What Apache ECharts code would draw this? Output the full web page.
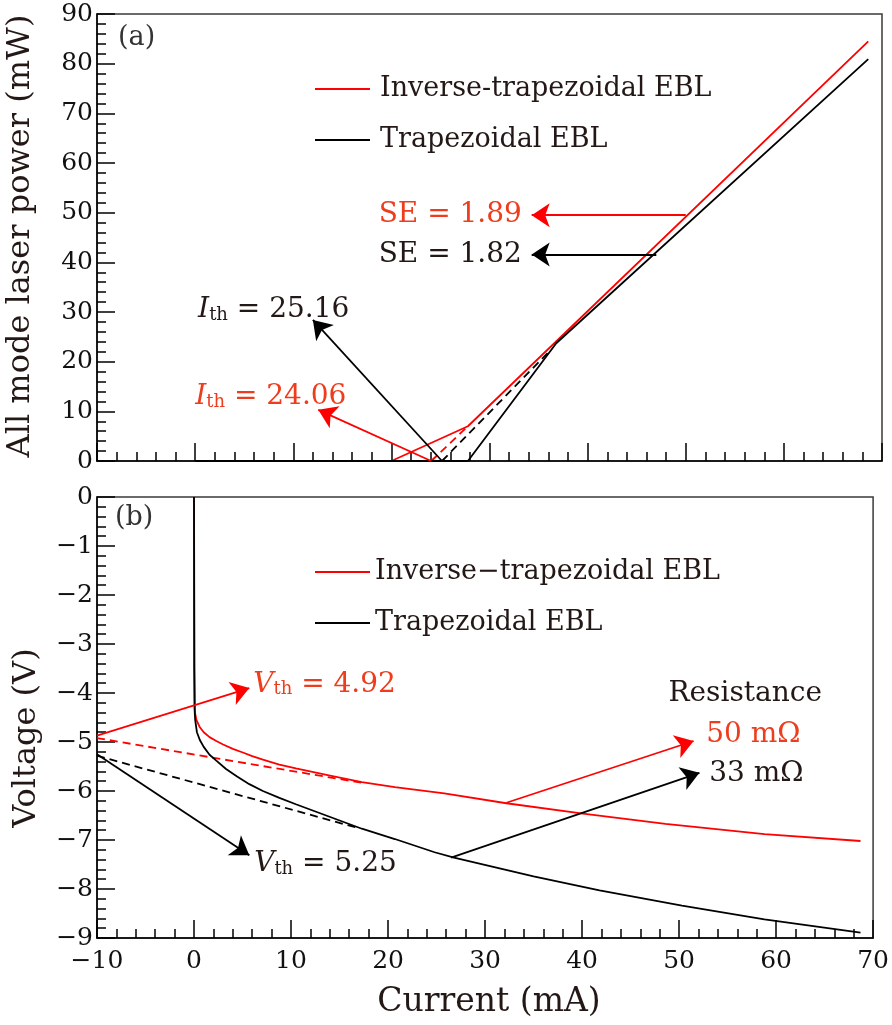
<!DOCTYPE html>
<html>
<head>
<meta charset="utf-8">
<script src="https://cdn.jsdelivr.net/npm/echarts@6/dist/echarts.min.js"></script>
<style>
html,body{margin:0;padding:0;background:#fff;}
#chart{width:892px;height:1025px;}
</style>
</head>
<body>
<div id="chart"></div>
<script>
// ---------- Panel (a): light–current ----------
const aInvCurrent = [0, 20, 27.8, 68.6];
const aInvPower   = [0, 0, 7.0, 84.5];
const aTrapCurrent = [0, 27.8, 36.8, 68.6];
const aTrapPower   = [0, 0, 23.7, 80.9];
const aInvFitCurrent = [24.06, 27.8];
const aInvFitPower   = [0, 7.0];
const aTrapFitCurrent = [25.16, 36.2];
const aTrapFitPower   = [0, 22.3];
const aYTicks = [0, 10, 20, 30, 40, 50, 60, 70, 80, 90];

// ---------- Panel (b): voltage–current ----------
const bInvCurrent = [0, 0.05, 0.1, 0.25, 0.6, 1.0, 1.6, 2.3, 3.0, 4.0, 5.1, 6.0, 7.1, 8.8, 10.5, 13.9, 17.3, 20.7, 25.8, 32.2, 40.1, 48.6, 58.8, 68.7];
const bInvVoltage = [0, -3.5, -4.4, -4.55, -4.7, -4.8, -4.9, -4.98, -5.05, -5.14, -5.22, -5.29, -5.36, -5.46, -5.54, -5.68, -5.82, -5.92, -6.05, -6.25, -6.46, -6.67, -6.88, -7.02];
const bTrapCurrent = [0, 0.02, 0.05, 0.12, 0.3, 0.6, 1.0, 1.6, 2.3, 3.3, 4.4, 5.7, 7.1, 8.8, 10.5, 13.9, 17.3, 20.7, 24.8, 26.8, 35, 41.8, 50.3, 58.8, 68.7];
const bTrapVoltage = [0, -3.5, -4.3, -4.55, -4.8, -4.96, -5.1, -5.26, -5.38, -5.55, -5.7, -5.86, -6.0, -6.14, -6.27, -6.52, -6.77, -6.98, -7.25, -7.36, -7.74, -8.03, -8.34, -8.62, -8.89];
const bInvFitCurrent = [-10, 17.5];
const bInvFitVoltage = [-4.92, -5.84];
const bTrapFitCurrent = [-10, 17];
const bTrapFitVoltage = [-5.28, -6.76];
const xTicks = [-10, 0, 10, 20, 30, 40, 50, 60, 70];

// annotation arrows (tail -> head), in data units
const aArrows = [
  {from: [24.06, 0], to: [12.55, 10.3], color: '#ff0000'},
  {from: [25.16, 0], to: [12.0, 28.4], color: '#000000'},
  {from: [50.0, 49.5], to: [34.3, 49.5], color: '#ff0000'},
  {from: [47.0, 41.6], to: [34.3, 41.6], color: '#000000'}
];
const bArrows = [
  {from: [-10, -4.87], to: [5.7, -3.9], color: '#ff0000'},
  {from: [-10, -5.25], to: [5.7, -7.31], color: '#000000'},
  {from: [32.2, -6.24], to: [51.5, -4.98], color: '#ff0000'},
  {from: [26.5, -7.36], to: [52.1, -5.63], color: '#000000'}
];

const RED = '#ff0000';
const RED_TXT = '#ee3d1d';
const BLK_TXT = '#231815';
const FONT = "'DejaVu Serif', serif";

function zip(xs, ys){ return xs.map((x,i)=>[x, ys[i]]); }
function minusFmt(v){ return String(v).replace('-', '\u2212'); }

const chart = echarts.init(document.getElementById('chart'), null, {renderer:'canvas'});

function lineSeries(name, xs, ys, color, gi, dashed){
  return {
    name: name, type: 'line', xAxisIndex: gi, yAxisIndex: gi,
    data: zip(xs, ys), showSymbol: false, symbol: 'none', smooth: false,
    lineStyle: {color: color, width: 1.8, type: dashed ? [8, 5] : 'solid'},
    itemStyle: {color: color},
    silent: true, animation: false, z: dashed ? 2 : 3
  };
}
function arrowSeries(arrows, gi){
  return arrows.map(a => ({
    type: 'lines', coordinateSystem: 'cartesian2d', xAxisIndex: gi, yAxisIndex: gi,
    data: [{coords: [a.from, a.to]}],
    symbol: ['none', 'arrow'], symbolSize: 18,
    lineStyle: {color: a.color, width: 1.8, opacity: 1, curveness: 0},
    itemStyle: {color: a.color},
    silent: true, animation: false, z: 4
  }));
}

const axisCommonX = (gi, showLabel) => ({
  type: 'value', gridIndex: gi, min: -10, max: 70, interval: 10,
  axisLine: {show: true, onZero: false, lineStyle: {color: '#000', width: 1.5}},
  axisTick: {show: true, inside: true, length: 18, lineStyle: {color: '#000', width: 1.5}},
  minorTick: {show: true, splitNumber: 5, length: 9, lineStyle: {color: '#000', width: 1.5}},
  splitLine: {show: false},
  axisLabel: {show: showLabel, color: '#111', fontFamily: FONT, fontSize: 25, margin: 11, formatter: minusFmt},
  name: ''
});
const axisCommonY = (gi, mn, mx, iv) => ({
  type: 'value', gridIndex: gi, min: mn, max: mx, interval: iv,
  axisLine: {show: true, onZero: false, lineStyle: {color: '#000', width: 1.5}},
  axisTick: {show: true, inside: true, length: 18, lineStyle: {color: '#000', width: 1.5}},
  minorTick: {show: true, splitNumber: 5, length: 9, lineStyle: {color: '#000', width: 1.5}},
  splitLine: {show: false},
  axisLabel: {color: '#111', fontFamily: FONT, fontSize: 25, margin: 4, formatter: minusFmt}
});

const option = {
  animation: false,
  backgroundColor: '#fff',
  textStyle: {fontFamily: FONT},
  grid: [
    {left: 97, top: 14, width: 785, height: 447, show: true, borderColor: '#3a3a3a', borderWidth: 1.5, backgroundColor: 'transparent'},
    {left: 97, top: 497, width: 785, height: 441, show: true, borderColor: '#3a3a3a', borderWidth: 1.5, backgroundColor: 'transparent'}
  ],
  xAxis: [axisCommonX(0, false), axisCommonX(1, true)],
  yAxis: [axisCommonY(0, 0, 90, 10), axisCommonY(1, -9, 0, 1)],
  legend: [
    {data: ['Inverse-trapezoidal EBL', 'Trapezoidal EBL'], orient: 'vertical', left: 310, top: 69,
     itemWidth: 55, itemHeight: 2, itemGap: 21, icon: 'rect', selectedMode: false,
     textStyle: {fontFamily: FONT, fontSize: 27, color: BLK_TXT, lineHeight: 30, padding: [0, 0, 0, 5]}},
    {data: ['Inverse\u2212trapezoidal EBL', 'Trapezoidal EBL'], orient: 'vertical', left: 310, top: 552,
     itemWidth: 55, itemHeight: 2, itemGap: 21, icon: 'rect', selectedMode: false,
     textStyle: {fontFamily: FONT, fontSize: 27, color: BLK_TXT, lineHeight: 30, padding: [0, 0, 0, 0]}}
  ],
  series: [
    lineSeries('Inverse-trapezoidal EBL', aInvCurrent, aInvPower, RED, 0, false),
    lineSeries('Trapezoidal EBL', aTrapCurrent, aTrapPower, '#000', 0, false),
    lineSeries('aInvFit', aInvFitCurrent, aInvFitPower, RED, 0, true),
    lineSeries('aTrapFit', aTrapFitCurrent, aTrapFitPower, '#000', 0, true),
    lineSeries('Inverse\u2212trapezoidal EBL', bInvCurrent, bInvVoltage, RED, 1, false),
    lineSeries('Trapezoidal EBL', bTrapCurrent, bTrapVoltage, '#000', 1, false),
    lineSeries('bInvFit', bInvFitCurrent, bInvFitVoltage, RED, 1, true),
    lineSeries('bTrapFit', bTrapFitCurrent, bTrapFitVoltage, '#000', 1, true)
  ].concat(arrowSeries(aArrows, 0), arrowSeries(bArrows, 1))
};
chart.setOption(option);

// ---------- text annotations anchored to data coordinates ----------
const richBase = (color) => ({
  i: {fontFamily: FONT, fontStyle: 'italic', fontSize: 28, color: color, lineHeight: 32, verticalAlign: 'bottom'},
  s: {fontFamily: FONT, fontSize: 18, color: color, lineHeight: 23, verticalAlign: 'bottom'},
  n: {fontFamily: FONT, fontSize: 28, color: color, lineHeight: 32, verticalAlign: 'bottom'}
});
const notes = [
  {gi: 0, at: [0.3, 30.8], text: '{i|I}{s|th}{n| = 25.16}', color: BLK_TXT, align: 'left'},
  {gi: 0, at: [0.0, 13.3], text: '{i|I}{s|th}{n| = 24.06}', color: RED_TXT, align: 'left'},
  {gi: 0, at: [33.3, 49.9], text: '{n|SE = 1.89}', color: RED_TXT, align: 'right'},
  {gi: 0, at: [33.3, 41.9], text: '{n|SE = 1.82}', color: BLK_TXT, align: 'right'},
  {gi: 1, at: [6.1, -3.78], text: '{i|V}{s|th}{n| = 4.92}', color: RED_TXT, align: 'left'},
  {gi: 1, at: [6.2, -7.45], text: '{i|V}{s|th}{n| = 5.25}', color: BLK_TXT, align: 'left'},
  {gi: 1, at: [48.9, -3.98], text: '{n|Resistance}', color: BLK_TXT, align: 'left'},
  {gi: 1, at: [52.8, -4.82], text: '{n|50 m\u03A9}', color: RED_TXT, align: 'left'},
  {gi: 1, at: [53.1, -5.61], text: '{n|33 m\u03A9}', color: BLK_TXT, align: 'left'}
];
const graphics = notes.map(n => {
  const p = chart.convertToPixel({gridIndex: n.gi}, n.at);
  return {type: 'text', x: p[0], y: p[1], z: 10, silent: true,
    style: {text: n.text, rich: richBase(n.color), align: n.align, verticalAlign: 'middle', fill: n.color}};
});
graphics.push(
  {type: 'text', x: 118, y: 38, style: {text: '(a)', font: "27px " + FONT, fill: '#333', verticalAlign: 'middle'}},
  {type: 'text', x: 115, y: 518, style: {text: '(b)', font: "27px " + FONT, fill: '#333', verticalAlign: 'middle'}},
  {type: 'text', x: 21, y: 236, rotation: Math.PI / 2,
   style: {text: 'All mode laser power (mW)', font: "32px " + FONT, fill: BLK_TXT, align: 'center', verticalAlign: 'middle'}},
  {type: 'text', x: 27, y: 738, rotation: Math.PI / 2,
   style: {text: 'Voltage (V)', font: "32px " + FONT, fill: BLK_TXT, align: 'center', verticalAlign: 'middle'}},
  {type: 'text', x: 489, y: 1002,
   style: {text: 'Current (mA)', font: "33px " + FONT, fill: BLK_TXT, align: 'center', verticalAlign: 'middle'}}
);
chart.setOption({graphic: graphics});
</script>
</body>
</html>
